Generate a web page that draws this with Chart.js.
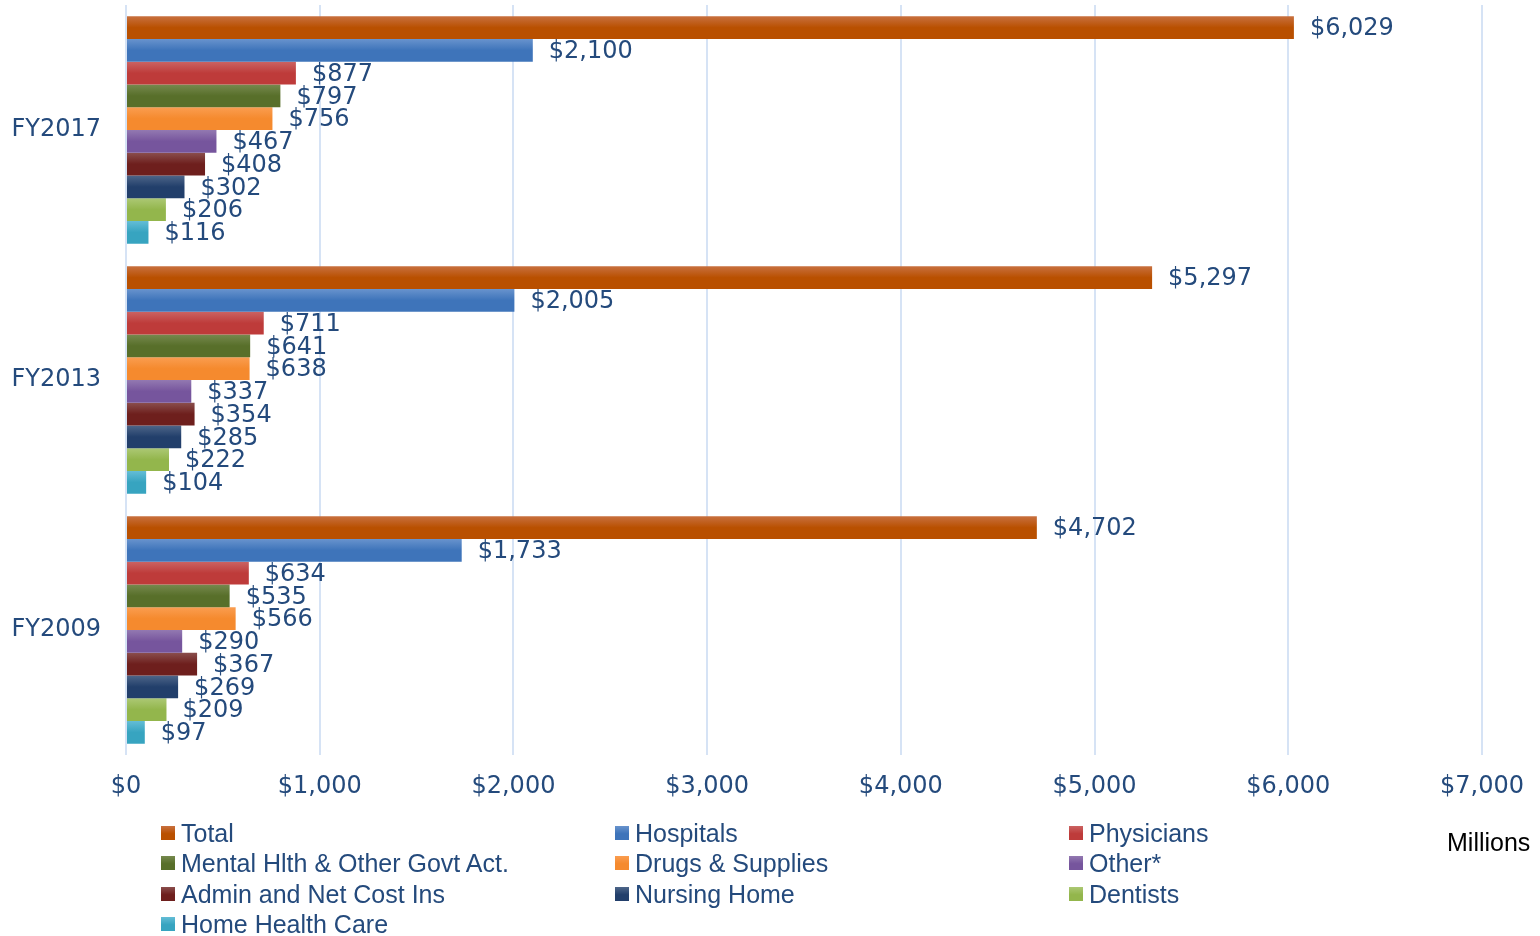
<!DOCTYPE html>
<html>
<head>
<meta charset="utf-8">
<script src="https://cdn.jsdelivr.net/npm/chart.js@4.4.1/dist/chart.umd.min.js"></script>
<style>
  html, body { margin: 0; padding: 0; background: #fff; }
  #wrap { position: relative; width: 1540px; height: 936px; overflow: hidden; }
  #c { position: absolute; left: 0; top: 0; }
  .leg { position: absolute; font-family: "Liberation Sans", Arial, sans-serif; font-size: 25px; color: #244A7C; white-space: nowrap; line-height: 30px; height: 30px; }
  .leg .box { position: absolute; left: 0; top: 8px; width: 14px; height: 14px; }
  .leg .txt { position: absolute; left: 20px; top: 0; }
  #millions { position: absolute; left: 1447px; top: 827px; font-family: "Liberation Sans", Arial, sans-serif; font-size: 25px; color: #000; line-height: 30px; }
</style>
</head>
<body>
<div id="wrap">
  <canvas id="c" width="1540" height="936"></canvas>
  <div id="legend"></div>
  <div id="millions">Millions</div>
</div>
<script>
const categories = ['FY2017', 'FY2013', 'FY2009'];
const seriesNames = ['Total', 'Hospitals', 'Physicians', 'Mental Hlth & Other Govt Act.', 'Drugs & Supplies', 'Other*', 'Admin and Net Cost Ins', 'Nursing Home', 'Dentists', 'Home Health Care'];
const total      = [6029, 5297, 4702];
const hospitals  = [2100, 2005, 1733];
const physicians = [877, 711, 634];
const mentalHlth = [797, 641, 535];
const drugs      = [756, 638, 566];
const other      = [467, 337, 290];
const admin      = [408, 354, 367];
const nursing    = [302, 285, 269];
const dentists   = [206, 222, 209];
const homeHealth = [116, 104, 97];
const xTickValues = [0, 1000, 2000, 3000, 4000, 5000, 6000, 7000];

const seriesValues = [total, hospitals, physicians, mentalHlth, drugs, other, admin, nursing, dentists, homeHealth];
const baseColors  = ['#B95000', '#3E74BA', '#BE3B3A', '#586F2A', '#F58A2E', '#76559D', '#6E1F1D', '#223F6B', '#93B64C', '#37A4C0'];
const lightColors = ['#C8703F', '#6893CD', '#CB6362', '#76894E', '#FA9D50', '#9379B1', '#8A4E4C', '#4E6689', '#ACC874', '#64BDD6'];

const TEXT = '#244A7C';
const NUMFONT = '"DejaVu Sans", sans-serif';
const fmt = v => '$' + Number(v).toLocaleString('en-US');

const datasets = seriesValues.map((vals, i) => ({
  label: seriesNames[i],
  data: vals,
  backgroundColor: (c) => baseColors[c.datasetIndex],
  borderWidth: 0,
  categoryPercentage: 0.91,
  barPercentage: 1.0
}));

const gradientPlugin = {
  id: 'grad',
  beforeDatasetsDraw(chart) {
    const ctx = chart.ctx;
    chart.data.datasets.forEach((ds, di) => {
      const meta = chart.getDatasetMeta(di);
      meta.data.forEach(el => {
        const top = el.y - el.height / 2;
        const g = ctx.createLinearGradient(0, top, 0, top + el.height);
        g.addColorStop(0, lightColors[di]);
        g.addColorStop(0.5, baseColors[di]);
        g.addColorStop(1, baseColors[di]);
        try { el.options.backgroundColor = g; } catch (e) {}
      });
    });
  }
};

const labelPlugin = {
  id: 'vlabels',
  afterDatasetsDraw(chart) {
    const ctx = chart.ctx;
    ctx.save();
    ctx.font = '24px ' + NUMFONT;
    ctx.fillStyle = TEXT;
    ctx.textAlign = 'left';
    ctx.textBaseline = 'middle';
    chart.data.datasets.forEach((ds, di) => {
      const meta = chart.getDatasetMeta(di);
      meta.data.forEach((el, idx) => {
        ctx.fillText(fmt(ds.data[idx]), el.x + 16, el.y + 1.5);
      });
    });
    ctx.restore();
  }
};

new Chart(document.getElementById('c'), {
  type: 'bar',
  data: { labels: categories, datasets },
  options: {
    indexAxis: 'y',
    responsive: false,
    animation: false,
    devicePixelRatio: 1,
    layout: { padding: { top: 5, right: 58, left: 0, bottom: 0 } },
    plugins: { legend: { display: false }, tooltip: { enabled: false } },
    scales: {
      x: {
        type: 'linear',
        min: 0,
        max: 7000,
        afterBuildTicks: (scale) => { scale.ticks = xTickValues.map(v => ({ value: v })); },
        afterFit: (scale) => { scale.height = 181; scale.paddingLeft = 0; scale.paddingRight = 0; },
        ticks: { color: TEXT, font: { family: NUMFONT, size: 24 }, padding: 17, maxRotation: 0, callback: (v) => fmt(v) },
        grid: { color: '#D6E3F5', lineWidth: 2, drawTicks: false },
        border: { display: false }
      },
      y: {
        type: 'category',
        afterFit: (scale) => { scale.width = 126; scale.paddingTop = 0; scale.paddingBottom = 0; },
        ticks: { color: TEXT, font: { family: NUMFONT, size: 24 }, padding: 25 },
        grid: { display: false, drawTicks: false },
        border: { display: false }
      }
    }
  },
  plugins: [gradientPlugin, labelPlugin]
});

// HTML legend, 3 columns, row-major
const legend = document.getElementById('legend');
const colX = [161, 615, 1069];
const rowY = [818, 848, 879, 909];
seriesNames.forEach((name, i) => {
  const d = document.createElement('div');
  d.className = 'leg';
  d.style.left = colX[i % 3] + 'px';
  d.style.top = rowY[Math.floor(i / 3)] + 'px';
  const b = document.createElement('span');
  b.className = 'box';
  b.style.background = 'linear-gradient(to bottom, ' + lightColors[i] + ', ' + baseColors[i] + ' 55%, ' + baseColors[i] + ')';
  const t = document.createElement('span');
  t.className = 'txt';
  t.textContent = name;
  d.appendChild(b); d.appendChild(t);
  legend.appendChild(d);
});
</script>
</body>
</html>
